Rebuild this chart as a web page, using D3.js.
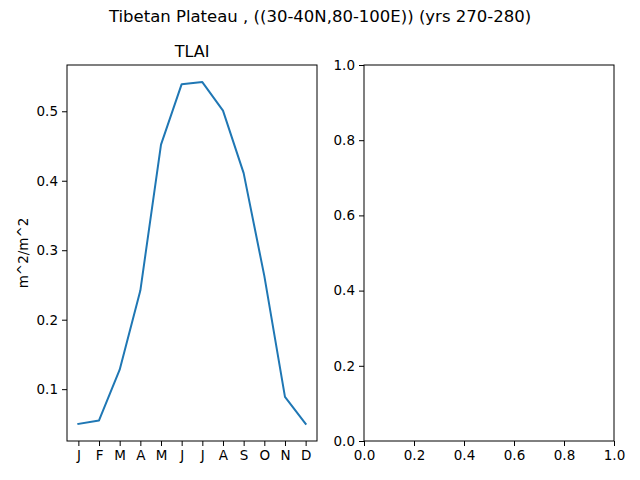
<!DOCTYPE html>
<html>
<head>
<meta charset="utf-8">
<script src="https://cdn.jsdelivr.net/npm/d3@7"></script>
<style>
body { margin: 0; background: #fff; }
text { font-family: "DejaVu Sans", sans-serif; fill: #000; }
</style>
</head>
<body>
<div id="chart"></div>
<script>
var months = ["J","F","M","A","M","J","J","A","S","O","N","D"];
var tlai = [0.050, 0.055, 0.128, 0.242, 0.452, 0.539, 0.542, 0.501, 0.411, 0.263, 0.089, 0.050];
var leftYTicks = [0.1, 0.2, 0.3, 0.4, 0.5];
var emptyTicks = [0.0, 0.2, 0.4, 0.6, 0.8, 1.0];

var width = 640, height = 480;
var svg = d3.select("#chart").append("svg")
	.attr("width", width)
	.attr("height", height);

var plotTop = 65, plotBottom = 441;
var left1 = 67, right1 = 317;
var left2 = 364, right2 = 614;

// suptitle
svg.append("text")
	.attr("x", 320).attr("y", 22)
	.attr("text-anchor", "middle")
	.style("font-size", "16.5px")
	.text("Tibetan Plateau , ((30-40N,80-100E)) (yrs 270-280)");

/********** left panel **********/
var ymin = d3.min(tlai), ymax = d3.max(tlai);
var pad = (ymax - ymin) * 0.05;
var x1 = d3.scaleLinear().domain([-0.55, 11.55]).range([left1, right1]);
var y1 = d3.scaleLinear().domain([ymin - pad, ymax + pad]).range([plotBottom, plotTop]);

var g1 = svg.append("g");
var xAxis1 = d3.axisBottom(x1)
	.tickValues(d3.range(12))
	.tickFormat(function(d) { return months[d]; })
	.tickSize(5).tickPadding(4);
var yAxis1 = d3.axisLeft(y1)
	.tickValues(leftYTicks)
	.tickFormat(d3.format(".1f"))
	.tickSize(5).tickPadding(4);

g1.append("g").attr("transform", "translate(0," + plotBottom + ")").call(xAxis1);
g1.append("g").attr("transform", "translate(" + left1 + ",0)").call(yAxis1);

var line = d3.line()
	.x(function(d, i) { return x1(i); })
	.y(function(d) { return y1(d); });

g1.append("path")
	.datum(tlai)
	.attr("d", line)
	.attr("fill", "none")
	.attr("stroke", "#1f77b4")
	.attr("stroke-width", 2)
	.attr("stroke-linejoin", "round")
	.attr("stroke-linecap", "square");

g1.append("rect")
	.attr("x", left1).attr("y", plotTop)
	.attr("width", right1 - left1).attr("height", plotBottom - plotTop)
	.attr("fill", "none").attr("stroke", "#000").attr("stroke-width", 1);

g1.append("text")
	.attr("x", (left1 + right1) / 2).attr("y", 57)
	.attr("text-anchor", "middle")
	.style("font-size", "16px")
	.text("TLAI");

g1.append("text")
	.attr("transform", "translate(28," + ((plotTop + plotBottom) / 2) + ") rotate(-90)")
	.attr("text-anchor", "middle")
	.style("font-size", "13.5px")
	.text("m^2/m^2");

/********** right panel (empty) **********/
var x2 = d3.scaleLinear().domain([0, 1]).range([left2, right2]);
var y2 = d3.scaleLinear().domain([0, 1]).range([plotBottom, plotTop]);
var g2 = svg.append("g");
g2.append("g").attr("transform", "translate(0," + plotBottom + ")")
	.call(d3.axisBottom(x2).tickValues(emptyTicks).tickFormat(d3.format(".1f")).tickSize(5).tickPadding(4));
g2.append("g").attr("transform", "translate(" + left2 + ",0)")
	.call(d3.axisLeft(y2).tickValues(emptyTicks).tickFormat(d3.format(".1f")).tickSize(5).tickPadding(4));
g2.append("rect")
	.attr("x", left2).attr("y", plotTop)
	.attr("width", right2 - left2).attr("height", plotBottom - plotTop)
	.attr("fill", "none").attr("stroke", "#000").attr("stroke-width", 1);

svg.selectAll(".domain").remove();
svg.selectAll(".tick text").style("font-size", "13.5px").style("font-family", "DejaVu Sans, sans-serif");
svg.selectAll(".tick line").attr("stroke", "#000").attr("stroke-width", 1);
</script>
</body>
</html>
